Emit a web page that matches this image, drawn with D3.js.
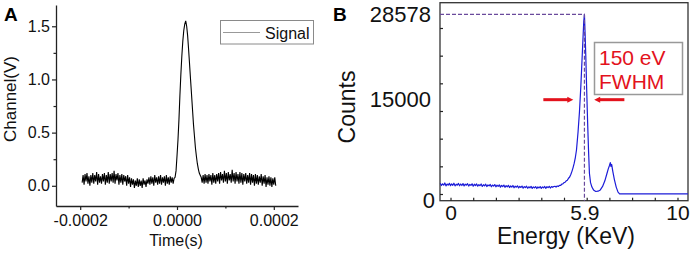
<!DOCTYPE html>
<html>
<head>
<meta charset="utf-8">
<script src="https://cdn.jsdelivr.net/npm/d3@7"></script>
<style>
  body { margin: 0; background: #fff; }
  text { font-family: "Liberation Sans", Arial, sans-serif; }
</style>
</head>
<body>
<svg id="fig" width="692" height="254"></svg>
<script>
// ---- panel A : oscilloscope trace ----
var signalStart = -0.000196,   // first sample (s)
    signalStep = 0.000002;     // sample interval (s)
var signalVolts = [
  0.03, 0.10, 0.01, 0.11, 0.04, 0.12, 0.02, 0.09, 0.00, 0.10,
  0.03, 0.12, 0.02, 0.10, 0.04, 0.13, 0.01, 0.11, 0.03, 0.09,
  0.02, 0.11, 0.04, 0.12, 0.01, 0.10, 0.03, 0.13, 0.02, 0.11,
  0.04, 0.12, 0.03, 0.14, 0.02, 0.11, 0.05, 0.12, 0.01, 0.10,
  0.03, 0.11, 0.01, 0.10, 0.04, 0.09, 0.00, 0.10, 0.02, 0.08,
  -0.01, 0.07, 0.01, 0.06, -0.02, 0.05, 0.00, 0.07, -0.01, 0.06,
  0.00, 0.05, -0.02, 0.07, 0.01, 0.05, -0.01, 0.06, 0.02, 0.08,
  0.01, 0.09, 0.02, 0.08, 0.00, 0.10, 0.03, 0.08, 0.01, 0.09,
  0.02, 0.10, 0.01, 0.08, 0.03, 0.09, 0.00, 0.10, 0.02, 0.08,
  0.01, 0.09, 0.03, 0.08, 0.02, 0.07, 0.08, 0.14, 0.28, 0.43,
  0.62, 0.85, 1.05, 1.22, 1.36, 1.46, 1.52, 1.55, 1.50, 1.41,
  1.28, 1.14, 1.00, 0.86, 0.72, 0.58, 0.47, 0.36, 0.28, 0.21,
  0.16, 0.12, 0.10, 0.08, 0.03, 0.10, 0.02, 0.11, 0.03, 0.10,
  0.02, 0.11, 0.04, 0.10, 0.01, 0.12, 0.03, 0.10, 0.02, 0.11,
  0.04, 0.12, 0.02, 0.13, 0.05, 0.11, 0.03, 0.14, 0.04, 0.12,
  0.02, 0.13, 0.05, 0.11, 0.03, 0.15, 0.04, 0.12, 0.02, 0.13,
  0.04, 0.11, 0.02, 0.13, 0.03, 0.12, 0.01, 0.11, 0.04, 0.12,
  0.02, 0.10, 0.03, 0.12, 0.01, 0.11, 0.03, 0.10, 0.00, 0.11,
  0.02, 0.10, 0.01, 0.09, 0.03, 0.11, 0.00, 0.09, 0.02, 0.10,
  -0.01, 0.08, 0.01, 0.09, 0.00, 0.08, -0.01, 0.07, 0.01, 0.08,
  0.00
];
var timeTicks = [-0.0002, 0, 0.0002];
var timeMinor = [-0.0001, 0.0001];
var voltTicks = [0, 0.5, 1.0, 1.5];
var voltMinor = [0.25, 0.75, 1.25];

// ---- panel B : energy spectrum ----
var energyKeV = [
  -0.45, -0.40, -0.35, -0.30, -0.25, -0.20, -0.15, -0.10, -0.05, 0.00,
  0.05, 0.10, 0.15, 0.20, 0.25, 0.30, 0.35, 0.40, 0.45, 0.50,
  0.55, 0.60, 0.65, 0.70, 0.75, 0.80, 0.85, 0.90, 0.95, 1.00,
  1.05, 1.10, 1.15, 1.20, 1.25, 1.30, 1.35, 1.40, 1.45, 1.50,
  1.55, 1.60, 1.65, 1.70, 1.75, 1.80, 1.85, 1.90, 1.95, 2.00,
  2.05, 2.10, 2.15, 2.20, 2.25, 2.30, 2.35, 2.40, 2.45, 2.50,
  2.55, 2.60, 2.65, 2.70, 2.75, 2.80, 2.85, 2.90, 2.95, 3.00,
  3.05, 3.10, 3.15, 3.20, 3.25, 3.30, 3.35, 3.40, 3.45, 3.50,
  3.55, 3.60, 3.65, 3.70, 3.75, 3.80, 3.85, 3.90, 3.95, 4.00,
  4.05, 4.10, 4.15, 4.20, 4.25, 4.30, 4.35, 4.40, 4.45, 4.50,
  4.55, 4.60, 4.65, 4.70, 4.75, 4.80, 4.85, 4.90, 4.95, 5.00,
  5.05, 5.10, 5.15, 5.20, 5.25, 5.30, 5.35, 5.40, 5.45, 5.50,
  5.55, 5.62, 5.68, 5.74, 5.79, 5.84, 5.87, 5.90, 5.93, 5.96,
  6.00, 6.04, 6.08, 6.12, 6.17, 6.23, 6.30, 6.40, 6.50, 6.60,
  6.70, 6.80, 6.88, 6.95, 7.00, 7.04, 7.07, 7.10, 7.15, 7.22,
  7.30, 7.38, 7.45, 7.70, 8.50, 9.50, 10.46
];
var counts = [
  1700, 1350, 1620, 1400, 1750, 1300, 1580, 1420, 1690, 1330,
  1600, 1380, 1720, 1290, 1550, 1400, 1680, 1310, 1590, 1350,
  1650, 1280, 1560, 1400, 1640, 1260, 1530, 1370, 1620, 1240,
  1550, 1330, 1600, 1250, 1480, 1320, 1590, 1200, 1470, 1300,
  1560, 1180, 1450, 1290, 1520, 1150, 1420, 1260, 1500, 1140,
  1400, 1210, 1450, 1090, 1360, 1190, 1420, 1060, 1320, 1150,
  1380, 1020, 1290, 1110, 1350, 990, 1250, 1080, 1300, 960,
  1220, 1040, 1270, 930, 1180, 1010, 1240, 900, 1150, 990,
  1210, 880, 1130, 970, 1190, 870, 1120, 960, 1180, 880,
  1130, 980, 1200, 900, 1160, 1010, 1230, 950, 1190, 1060,
  1190, 1230, 1100, 1280, 1200, 1380, 1350, 1560, 1600, 1800,
  1870, 2100, 2200, 2500, 2700, 3100, 3600, 4200, 4900, 5800,
  7000, 9900, 13000, 17000, 21000, 25000, 27400, 28578, 25500, 22000,
  16500, 11500, 7000, 3300, 1800, 1100, 650, 400, 450, 650,
  1200, 2100, 3100, 4000, 4500, 5000, 4400, 4700, 3600, 2300,
  1100, 300, 20, 10, 20, 10, 15
];
var energyTicks = [0, 1, 2, 3, 4, 5, 6, 7, 8, 9, 10];
var energyLabels = [0, 5.9, 10];
var countTicks = [0, 4400, 8800, 13200, 17600, 22000, 26400];
var countLabels = [0, 15000, 28578];
var peakEnergy = 5.9, peakCounts = 28578;
var fwhmArrowY = 15000;
var fwhmLeft = [4.09, 5.41], fwhmRight = [7.66, 6.33];

var svg = d3.select("#fig");

function styleAxis(g, size) {
  g.selectAll(".domain").attr("stroke", "#222").attr("stroke-width", 1.3);
  g.selectAll(".tick line").attr("stroke", "#222").attr("stroke-width", 1.2);
  g.selectAll(".tick text")
    .attr("fill", "#111")
    .style("font-family", "'Liberation Sans', Arial, sans-serif")
    .style("font-size", size + "px");
}

// ================= A =================
var xA = d3.scaleLinear().domain([-0.00025, 0.00025]).range([56, 298]);
var yA = d3.scaleLinear().domain([-0.19, 1.70]).range([206, 5]);

var gA = svg.append("g");

gA.append("g")
    .attr("transform", "translate(0,206)")
    .call(d3.axisBottom(xA).tickValues(timeTicks)
      .tickFormat(function(d){ return d.toFixed(4); })
      .tickSize(4).tickPadding(5).tickSizeOuter(0))
    .call(styleAxis, 16);

gA.append("g")
    .attr("transform", "translate(0,206)")
    .call(d3.axisBottom(xA).tickValues(timeMinor).tickFormat("").tickSize(2.5))
    .call(function(g){ g.select(".domain").remove(); })
    .call(styleAxis, 16);

gA.append("g")
    .attr("transform", "translate(56,0)")
    .call(d3.axisLeft(yA).tickValues(voltTicks)
      .tickFormat(function(d){ return d.toFixed(1); })
      .tickSize(4).tickPadding(2).tickSizeOuter(0))
    .call(styleAxis, 16);

gA.append("g")
    .attr("transform", "translate(56,0)")
    .call(d3.axisLeft(yA).tickValues(voltMinor).tickFormat("").tickSize(2.5))
    .call(function(g){ g.select(".domain").remove(); })
    .call(styleAxis, 16);

var lineA = d3.line()
    .x(function(d, i){ return xA(signalStart + i * signalStep); })
    .y(function(d){ return yA(d); });

gA.append("path")
    .datum(signalVolts)
    .attr("d", lineA)
    .attr("fill", "none")
    .attr("stroke", "#000")
    .attr("stroke-width", 1.1);

// legend
var legA = gA.append("g");
legA.append("rect")
    .attr("x", 220.5).attr("y", 20.5).attr("width", 93).attr("height", 23.5)
    .attr("fill", "#fff").attr("stroke", "#8a8a8a").attr("stroke-width", 1);
legA.append("line")
    .attr("x1", 223).attr("x2", 260).attr("y1", 32.5).attr("y2", 32.5)
    .attr("stroke", "#999").attr("stroke-width", 1.2);
legA.append("text")
    .attr("x", 265).attr("y", 38.5)
    .attr("font-size", 16).attr("fill", "#111")
    .text("Signal");

gA.append("text")
    .attr("x", 176).attr("y", 246)
    .attr("text-anchor", "middle")
    .attr("font-size", 16).attr("fill", "#111")
    .text("Time(s)");

gA.append("text")
    .attr("transform", "translate(15.5,99) rotate(-90)")
    .attr("text-anchor", "middle")
    .attr("font-size", 17).attr("fill", "#111")
    .text("Channel(V)");

gA.append("text")
    .attr("x", 4).attr("y", 21)
    .attr("font-size", 19).attr("font-weight", "bold").attr("fill", "#000")
    .text("A");

// ================= B =================
var xB = d3.scaleLinear().domain([-0.463, 10.463]).range([440, 688]);
var yB = d3.scaleLinear().domain([-1066, 30423]).range([200.7, 2.7]);

var gB = svg.append("g");

gB.append("rect")
    .attr("x", 440).attr("y", 2.7).attr("width", 248).attr("height", 198)
    .attr("fill", "none").attr("stroke", "#333").attr("stroke-width", 1.3);

// inward ticks
gB.append("g")
    .attr("transform", "translate(0,200.7)")
    .call(d3.axisBottom(xB).tickValues(energyTicks).tickFormat("").tickSize(-3).tickSizeOuter(0))
    .call(function(g){ g.select(".domain").remove(); })
    .call(styleAxis, 22);

gB.append("g")
    .attr("transform", "translate(440,0)")
    .call(d3.axisLeft(yB).tickValues(countTicks).tickFormat("").tickSize(-3).tickSizeOuter(0))
    .call(function(g){ g.select(".domain").remove(); })
    .call(styleAxis, 22);

// labels
gB.append("g")
    .attr("transform", "translate(0,200.7)")
    .call(d3.axisBottom(xB).tickValues(energyLabels)
      .tickFormat(function(d){ return String(d); })
      .tickSize(0).tickPadding(4))
    .call(function(g){ g.select(".domain").remove(); })
    .call(styleAxis, 21);

gB.append("g")
    .attr("transform", "translate(440,0)")
    .call(d3.axisLeft(yB).tickValues(countLabels)
      .tickFormat(function(d){ return String(d); })
      .tickSize(0).tickPadding(9))
    .call(function(g){
      g.select(".domain").remove();
      g.selectAll(".tick").filter(function(d){ return d === 0; })
        .select("text").attr("transform", "translate(4,6)");
    })
    .call(styleAxis, 22);

var lineB = d3.line()
    .x(function(d, i){ return xB(energyKeV[i]); })
    .y(function(d){ return yB(d); });

gB.append("path")
    .datum(counts)
    .attr("d", lineB)
    .attr("fill", "none")
    .attr("stroke", "#1c1cd8")
    .attr("stroke-width", 1.2)
    .attr("stroke-linejoin", "round");

// dashed guide to the peak
gB.append("path")
    .attr("d", "M" + xB.range()[0] + "," + yB(peakCounts) +
               "H" + xB(peakEnergy) +
               "V" + yB.range()[0])
    .attr("fill", "none")
    .attr("stroke", "#6a4a9c")
    .attr("stroke-width", 1.2)
    .attr("stroke-dasharray", "4,2");

// FWHM arrows
var red = "#e3121c";
function arrow(from, to) {
  var x0 = xB(from), x1 = xB(to), y = yB(fwhmArrowY);
  var dir = x1 > x0 ? 1 : -1;
  gB.append("line")
      .attr("x1", x0).attr("x2", x1 - dir * 4).attr("y1", y).attr("y2", y)
      .attr("stroke", red).attr("stroke-width", 3);
  gB.append("path")
      .attr("d", "M" + x1 + "," + y + "L" + (x1 - dir * 6) + "," + (y - 3) +
                 "L" + (x1 - dir * 6) + "," + (y + 3) + "Z")
      .attr("fill", red);
}
arrow(fwhmLeft[0], fwhmLeft[1]);
arrow(fwhmRight[0], fwhmRight[1]);

gB.append("rect")
    .attr("x", 594.5).attr("y", 42.5).attr("width", 88).attr("height", 52)
    .attr("fill", "#fff").attr("stroke", "#999").attr("stroke-width", 1.5);
gB.append("text")
    .attr("x", 599).attr("y", 65)
    .attr("font-size", 21).attr("fill", red)
    .text("150 eV");
gB.append("text")
    .attr("x", 599).attr("y", 88.5)
    .attr("font-size", 21).attr("fill", red)
    .text("FWHM");

gB.append("text")
    .attr("x", 566).attr("y", 244)
    .attr("text-anchor", "middle")
    .attr("font-size", 23).attr("fill", "#111")
    .text("Energy (KeV)");

gB.append("text")
    .attr("transform", "translate(355,107) rotate(-90)")
    .attr("text-anchor", "middle")
    .attr("font-size", 23).attr("fill", "#111")
    .text("Counts");

gB.append("text")
    .attr("x", 333).attr("y", 21)
    .attr("font-size", 19).attr("font-weight", "bold").attr("fill", "#000")
    .text("B");
</script>
</body>
</html>
